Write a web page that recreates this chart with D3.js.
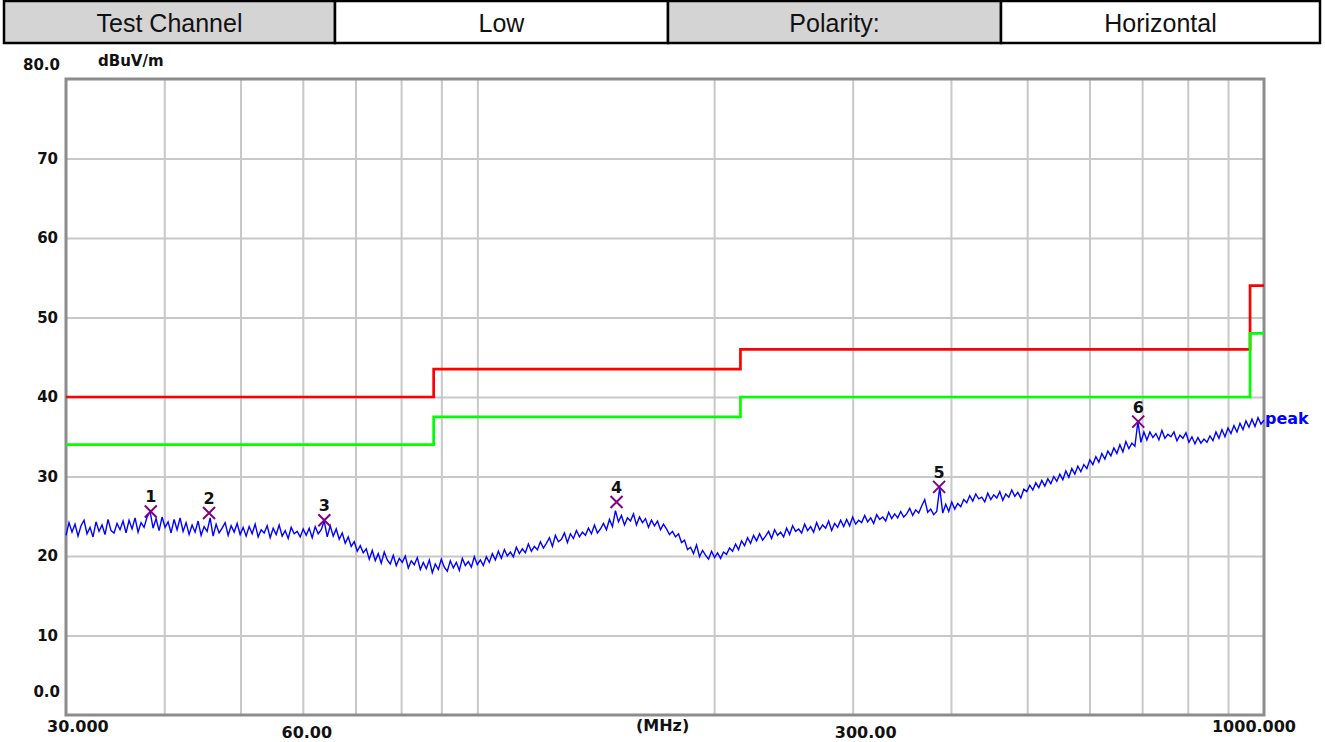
<!DOCTYPE html>
<html>
<head>
<meta charset="utf-8">
<script src="https://cdn.jsdelivr.net/npm/d3@7"></script>
<style>
  html, body { margin: 0; padding: 0; background: #ffffff; }
  svg { display: block; }
</style>
</head>
<body>
<svg id="chart" width="1325" height="742"></svg>
<script>
// ---------------- DATA ----------------
const headerLabels = ["Test Channel", "Low", "Polarity:", "Horizontal"];

const freqStart = 30;     // MHz, sweep start
const freqStop = 1000;    // MHz, sweep stop

// Peak trace (dBuV/m), one value per sweep point
const peakValues = [
  22.6, 24.2, 23.0, 24.0, 22.5, 23.8, 24.5, 22.8, 23.6, 22.4, 24.3, 23.1, 23.9, 22.7, 24.6, 23.2, 22.9, 24.1, 23.3, 24.4,
  22.9, 24.5, 23.4, 24.8, 23.0, 24.2, 23.6, 24.9, 25.6, 23.5, 24.7, 23.2, 24.9, 23.6, 24.3, 22.9, 24.6, 23.3, 24.8, 23.1,
  24.2, 22.7, 23.9, 23.0, 24.4, 22.6, 23.7, 23.1, 24.8, 22.5, 24.0, 22.9, 23.5, 24.2, 22.6, 23.8, 23.0, 24.1, 22.7, 23.6,
  22.5, 23.7, 22.8, 24.0, 22.4, 23.3, 22.9, 23.8, 22.3, 23.5, 22.7, 23.9, 22.5, 23.2, 22.2, 23.6, 22.8, 23.1, 22.4, 23.4,
  22.6, 23.5, 22.3, 23.7, 22.8, 23.3, 24.4, 22.4, 23.8, 22.5, 23.4, 22.1, 22.9, 21.6, 22.4, 21.2, 21.8, 20.6, 21.3, 20.4,
  20.9, 19.6, 20.7, 19.4, 20.3, 19.1, 20.5, 19.5, 19.0, 20.1, 18.8, 19.7, 19.2, 20.0, 18.5, 19.4, 18.9, 19.8, 18.3, 19.2,
  18.4, 19.5, 17.9, 19.0, 18.3, 19.6, 18.6, 18.1, 19.4, 18.5, 19.2, 18.2, 19.7, 18.8, 19.3, 18.6, 19.9, 18.9, 19.5, 18.8,
  19.9, 19.2, 20.3, 19.5, 20.6, 19.7, 20.8, 20.0, 20.5, 19.9, 21.1, 20.3, 20.9, 20.4, 21.5, 20.6, 21.2, 20.8, 21.8, 21.0,
  21.6, 22.3, 21.2, 22.6, 21.8, 22.1, 22.9, 21.7, 22.8, 22.2, 23.2, 22.4, 23.0, 22.6, 23.5, 22.8, 23.9, 22.9, 23.4, 24.1,
  23.3, 24.6, 23.7, 25.7, 24.3, 25.1, 23.9, 24.8, 24.4, 25.3, 23.9, 24.9, 24.2, 24.7, 23.6, 24.5, 23.8, 24.4, 23.3, 24.0,
  23.4, 22.7, 23.1, 22.4, 22.8, 21.7, 22.0, 20.8, 21.1, 20.3, 21.4, 19.9, 20.7, 20.1, 19.6, 20.6, 19.8, 20.4, 19.7, 20.5,
  20.2, 21.0, 20.6, 21.5, 20.8, 21.9, 21.3, 22.3, 21.6, 22.6, 21.9, 22.8, 22.0, 22.5, 23.1, 22.2, 23.3, 22.6, 23.0, 22.4,
  23.5, 22.7, 23.8, 23.1, 23.4, 22.9, 24.0, 23.2, 23.7, 23.0, 24.2, 23.3, 23.9, 23.5, 24.4, 23.2, 24.1, 23.6, 24.5, 23.7,
  24.6, 23.8, 24.9, 24.0, 24.5, 24.2, 25.1, 24.3, 24.8, 24.1, 25.2, 24.6, 24.9, 24.4, 25.5, 24.7, 25.3, 24.8, 25.6, 24.9,
  25.3, 26.0, 25.1, 25.8, 25.4, 26.3, 27.1, 25.5, 25.9, 25.2, 25.6, 28.6, 25.4, 26.5, 25.6, 26.8, 25.9, 26.6, 26.2, 27.1,
  26.7, 27.6, 26.9, 27.8, 27.2, 27.4, 26.8, 27.9, 27.1, 27.7, 27.3, 28.1, 27.0, 27.8, 27.4, 28.3, 27.5, 28.0, 27.3, 28.4,
  28.1, 28.9, 28.3, 29.2, 28.6, 29.5, 28.8, 29.7, 29.1, 30.0, 29.4, 30.3, 29.6, 30.7, 29.9, 31.0, 30.3, 31.3, 30.6, 31.5,
  31.0, 32.1, 31.5, 32.5, 31.8, 32.9, 32.2, 33.2, 32.6, 33.6, 32.9, 34.0, 33.1, 34.4, 33.5, 34.2, 33.8, 36.9, 34.3, 35.6,
  34.6, 35.6, 34.9, 35.4, 34.6, 35.8, 34.8, 35.3, 35.0, 35.6, 34.5, 35.2, 34.8, 35.5, 34.3, 35.0, 34.1, 34.9, 34.2, 34.7,
  34.3, 35.1, 34.5, 35.6, 34.8, 35.9, 35.0, 36.1, 35.4, 36.4, 35.6, 36.7, 35.9, 37.0, 36.2, 37.2, 36.3, 37.4, 36.6, 37.1
];

// Limit lines (step after each frequency)
const limitFreqs = [30, 88, 216, 960, 1000];
const limitQP    = [40, 43.5, 46, 54, 54];     // red
const limitMargin = [34, 37.5, 40, 48, 48];    // green

// Markers
const markerIds    = ["1", "2", "3", "4", "5", "6"];
const markerFreqs  = [38.45, 45.6, 63.9, 150.3, 386.4, 692.0];
const markerLevels = [25.6, 25.4, 24.5, 26.8, 28.7, 36.9];

// Axes
const yTickValues = [0, 10, 20, 30, 40, 50, 60, 70, 80];
const yTickLabels = ["0.0", "10", "20", "30", "40", "50", "60", "70", "80.0"];
const xGridValues = [40, 50, 60, 70, 80, 90, 100, 200, 300, 400, 500, 600, 700, 800, 900];
const xTickValues = [30, 60, 172, 300, 1000];
const xTickLabels = ["30.000", "60.00", "(MHz)", "300.00", "1000.000"];
const yUnit = "dBuV/m";
const traceName = "peak";

// ---------------- LAYOUT ----------------
const svg = d3.select("#chart");
const L = 66, R = 1264, T = 79, B = 715;

const x = d3.scaleLog().domain([freqStart, freqStop]).range([L, R]);
const y = d3.scaleLinear().domain([0, 80]).range([B, T]);

const freqs = d3.range(peakValues.length).map(i =>
  freqStart * Math.pow(freqStop / freqStart, i / (peakValues.length - 1)));

// ---- header table ----
const hdr = svg.append("g");
const cellX = [4, 335, 668, 1001, 1320];
const hTop = 1, hBot = 43;
headerLabels.forEach((t, i) => {
  hdr.append("rect")
    .attr("x", cellX[i]).attr("y", hTop)
    .attr("width", cellX[i + 1] - cellX[i]).attr("height", hBot - hTop)
    .attr("fill", i % 2 === 0 ? "#d4d4d4" : "#ffffff")
    .attr("stroke", "#000").attr("stroke-width", 2.5);
  hdr.append("text")
    .attr("x", (cellX[i] + cellX[i + 1]) / 2).attr("y", 32)
    .attr("text-anchor", "middle")
    .attr("font-family", "Liberation Sans, Arial, sans-serif")
    .attr("font-size", 25).attr("fill", "#111")
    .text(t);
});

// ---- grid ----
const grid = svg.append("g");
grid.append("g")
  .attr("transform", `translate(0,${B})`)
  .call(d3.axisBottom(x).tickValues(xGridValues).tickSize(-(B - T)).tickFormat(""))
  .call(g => g.select(".domain").remove())
  .call(g => g.selectAll("line").attr("stroke", "#c8c8c8").attr("stroke-width", 2));
grid.append("g")
  .attr("transform", `translate(${L},0)`)
  .call(d3.axisLeft(y).tickValues([10, 20, 30, 40, 50, 60, 70]).tickSize(-(R - L)).tickFormat(""))
  .call(g => g.select(".domain").remove())
  .call(g => g.selectAll("line").attr("stroke", "#c8c8c8").attr("stroke-width", 2));

// ---- frame ----
svg.append("rect")
  .attr("x", L).attr("y", T).attr("width", R - L).attr("height", B - T)
  .attr("fill", "none").attr("stroke", "#8c8c8c").attr("stroke-width", 3);

// ---- y labels ----
const labFont = "DejaVu Sans, Verdana, sans-serif";
const yl = svg.append("g")
  .attr("font-family", labFont).attr("font-weight", "bold")
  .attr("font-size", 15).attr("fill", "#111");
yTickValues.forEach((v, i) => {
  let yy = y(v) + 5, xx = 58;
  if (v === 80) { yy = y(v) - 9; xx = 60; }
  if (v === 0) { yy = y(v) - 18; xx = 60; }
  yl.append("text").attr("x", xx).attr("y", yy)
    .attr("text-anchor", "end").text(yTickLabels[i]);
});
svg.append("text")
  .attr("x", 98).attr("y", 66)
  .attr("font-family", labFont).attr("font-weight", "bold")
  .attr("font-size", 15).attr("fill", "#111")
  .text(yUnit);

// ---- x labels ----
const xl = svg.append("g")
  .attr("font-family", labFont).attr("font-weight", "bold")
  .attr("font-size", 16).attr("fill", "#111");
xTickValues.forEach((v, i) => {
  let xx = x(v), yy = 732, anchor = "middle";
  if (i === 0) { xx = x(v) - 19; yy = 732; anchor = "start"; }
  if (i === 1) { xx = x(v) + 4; yy = 738; }
  if (i === 2) { yy = 731; }
  if (i === 3) { xx = x(v) + 13; yy = 738; }
  if (i === 4) { xx = x(v) + 32; yy = 732; anchor = "end"; }
  xl.append("text").attr("x", xx).attr("y", yy)
    .attr("text-anchor", anchor).text(xTickLabels[i]);
});

// ---- limit lines ----
const stepLine = d3.line().x(d => x(d[0])).y(d => y(d[1])).curve(d3.curveStepAfter);
svg.append("path")
  .datum(limitFreqs.map((f, i) => [f, limitQP[i]]))
  .attr("d", stepLine).attr("fill", "none")
  .attr("stroke", "#ff0000").attr("stroke-width", 2.7);
svg.append("path")
  .datum(limitFreqs.map((f, i) => [f, limitMargin[i]]))
  .attr("d", stepLine).attr("fill", "none")
  .attr("stroke", "#00ff00").attr("stroke-width", 2.7);

// ---- peak trace ----
const traceLine = d3.line().x((d, i) => x(freqs[i])).y(d => y(d));
svg.append("path")
  .datum(peakValues)
  .attr("d", traceLine).attr("fill", "none")
  .attr("stroke", "#0000ff").attr("stroke-width", 1.4);
svg.append("text")
  .attr("x", R + 1).attr("y", y(peakValues[peakValues.length - 1]) + 4)
  .attr("font-family", labFont).attr("font-weight", "bold")
  .attr("font-size", 16).attr("fill", "#0000ff")
  .text(traceName);

// ---- markers ----
const mk = svg.append("g");
markerFreqs.forEach((f, i) => {
  const cx = x(f), cy = y(markerLevels[i]), s = 6;
  mk.append("path")
    .attr("d", `M${cx - s},${cy - s}L${cx + s},${cy + s}M${cx - s},${cy + s}L${cx + s},${cy - s}`)
    .attr("stroke", "#800080").attr("stroke-width", 2).attr("fill", "none");
  mk.append("text")
    .attr("x", cx).attr("y", cy - 9)
    .attr("text-anchor", "middle")
    .attr("font-family", labFont).attr("font-weight", "bold")
    .attr("font-size", 16).attr("fill", "#111")
    .text(markerIds[i]);
});
</script>
</body>
</html>
